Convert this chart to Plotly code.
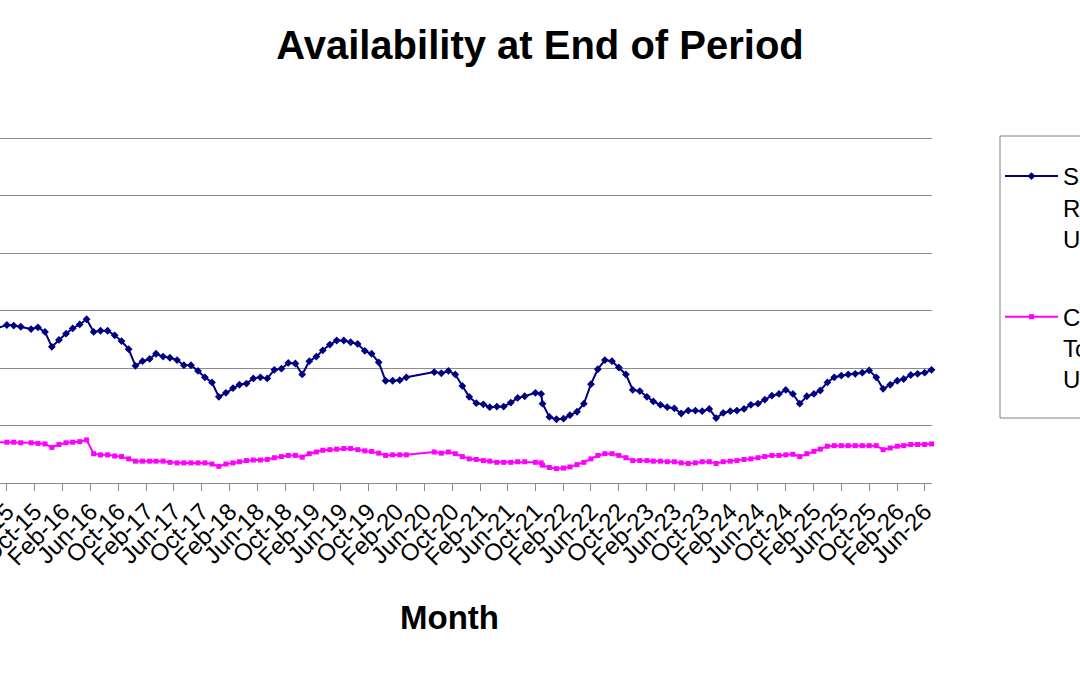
"""Availability at end of period: two monthly series on a date axis,
Excel-style chart cropped at both sides (left axis labels and the legend
text run past the page edge)."""
import plotly.graph_objects as go

FONT = "Liberation Sans, Arial, sans-serif"
INK = "#000000"
GRID = "#8c8c8c"
FRAME = "#808080"
BLUE = "#000080"
PINK = "#FF00FF"

DATES = [
    "2015-05-01", "2015-06-01", "2015-07-01", "2015-08-01",
    "2015-09-15", "2015-10-15", "2015-11-15", "2015-12-15",
    "2016-01-15", "2016-02-15", "2016-03-15", "2016-04-15", "2016-05-15", "2016-06-15",
    "2016-07-15", "2016-08-15", "2016-09-15", "2016-10-15", "2016-11-15", "2016-12-15",
    "2017-01-15", "2017-02-15", "2017-03-15", "2017-04-15", "2017-05-15", "2017-06-15",
    "2017-07-15", "2017-08-15", "2017-09-15", "2017-10-15", "2017-11-15", "2017-12-15",
    "2018-01-15", "2018-02-15", "2018-03-15", "2018-04-15", "2018-05-15", "2018-06-15",
    "2018-07-15", "2018-08-15", "2018-09-15", "2018-10-15", "2018-11-15", "2018-12-15",
    "2019-01-15", "2019-02-15", "2019-03-15", "2019-04-15", "2019-05-15", "2019-06-15",
    "2019-07-15", "2019-08-15", "2019-09-15", "2019-10-15", "2019-11-15", "2019-12-15",
    "2020-01-15", "2020-02-15", "2020-03-15",
    "2020-07-15", "2020-08-15", "2020-09-15", "2020-10-15", "2020-11-15", "2020-12-15",
    "2021-01-15", "2021-02-15", "2021-03-15", "2021-04-15", "2021-05-15", "2021-06-15",
    "2021-07-15", "2021-08-15",
    "2021-10-01", "2021-10-26", "2021-11-01", "2021-12-01",
    "2022-01-01", "2022-02-01", "2022-03-01", "2022-04-01", "2022-05-01", "2022-06-01",
    "2022-07-01", "2022-08-01", "2022-09-01", "2022-10-01", "2022-11-01", "2022-12-01",
    "2023-01-01", "2023-02-01", "2023-03-01", "2023-04-01", "2023-05-01", "2023-06-01",
    "2023-07-01", "2023-08-01", "2023-09-01", "2023-10-01", "2023-11-01", "2023-12-01",
    "2024-01-01", "2024-02-01", "2024-03-01", "2024-04-01", "2024-05-01", "2024-06-01",
    "2024-07-01", "2024-08-01", "2024-09-01", "2024-10-01", "2024-11-01", "2024-12-01",
    "2025-01-01", "2025-02-01", "2025-03-01", "2025-04-01", "2025-05-01", "2025-06-01",
    "2025-07-01", "2025-08-01", "2025-09-01", "2025-10-01", "2025-11-01", "2025-12-01",
    "2026-01-01", "2026-02-01", "2026-03-01", "2026-04-01", "2026-05-01", "2026-06-01",
    "2026-07-01",
]

SPARE = [
    27.1, 27.5, 27.4, 27.2, 26.8, 27.1, 26.3, 23.7, 24.9, 26.0,
    26.9, 27.6, 28.5, 26.3, 26.5, 26.5, 25.7, 24.7, 23.3, 20.4,
    21.2, 21.6, 22.5, 22.0, 21.8, 21.4, 20.5, 20.5, 19.5, 18.4,
    17.5, 15.0, 15.7, 16.5, 17.1, 17.3, 18.2, 18.4, 18.2, 19.7,
    19.9, 20.9, 20.8, 18.9, 21.2, 22.0, 23.1, 24.1, 24.8, 24.8,
    24.5, 24.2, 23.0, 22.5, 21.0, 17.8, 17.8, 17.9, 18.4, 19.3,
    19.1, 19.5, 18.9, 16.9, 15.0, 13.9, 13.7, 13.2, 13.3, 13.3,
    14.0, 14.8, 15.1, 15.7, 15.5, 13.8, 11.5, 11.1, 11.2, 11.8,
    12.4, 13.8, 17.2, 19.8, 21.4, 21.2, 20.1, 18.9, 16.2, 16.0,
    15.0, 14.2, 13.6, 13.2, 13.0, 12.1, 12.6, 12.6, 12.5, 12.9,
    11.3, 12.2, 12.5, 12.6, 12.9, 13.6, 13.8, 14.5, 15.2, 15.5,
    16.2, 15.5, 13.8, 15.1, 15.5, 16.1, 17.5, 18.4, 18.7, 18.9,
    19.0, 19.2, 19.6, 18.4, 16.4, 17.1, 17.8, 18.1, 18.8, 19.0,
    19.2, 19.7,
]

CURRENT = [
    7.1, 7.1, 7.1, 7.0, 7.0, 6.9, 6.8, 6.2, 6.7, 7.0,
    7.1, 7.2, 7.5, 5.1, 4.9, 4.9, 4.7, 4.6, 4.2, 3.8,
    3.8, 3.8, 3.8, 3.8, 3.6, 3.5, 3.5, 3.5, 3.5, 3.5,
    3.3, 2.9, 3.3, 3.5, 3.7, 3.9, 4.0, 4.0, 4.1, 4.4,
    4.6, 4.8, 4.8, 4.5, 5.1, 5.4, 5.7, 5.8, 5.9, 6.0,
    6.0, 5.8, 5.6, 5.5, 5.2, 4.8, 4.9, 4.9, 4.9, 5.4,
    5.2, 5.4, 5.1, 4.6, 4.2, 4.1, 3.9, 3.8, 3.6, 3.6,
    3.6, 3.7, 3.7, 3.6, 3.5, 3.1, 2.7, 2.5, 2.6, 2.8,
    3.2, 3.6, 4.2, 4.8, 5.1, 5.1, 4.8, 4.4, 3.9, 3.9,
    3.9, 3.8, 3.8, 3.7, 3.7, 3.5, 3.4, 3.5, 3.7, 3.7,
    3.4, 3.7, 3.8, 3.9, 4.1, 4.2, 4.4, 4.6, 4.8, 4.8,
    4.9, 5.0, 4.6, 5.1, 5.5, 5.9, 6.4, 6.5, 6.5, 6.5,
    6.5, 6.5, 6.5, 6.5, 5.8, 6.1, 6.4, 6.5, 6.7, 6.7,
    6.7, 6.8,
]

SERIES_NAMES = ["Spare<br>Reserve<br>Units", "Current<br>Total<br>Units"]

fig = go.Figure()

fig.add_trace(go.Scatter(
    x=DATES, y=SPARE, name=SERIES_NAMES[0], legendgroup="a",
    mode="lines+markers", cliponaxis=False,
    line=dict(color=BLUE, width=2),
    marker=dict(symbol="diamond", size=6, color=BLUE),
))
fig.add_trace(go.Scatter(
    x=DATES, y=CURRENT, name=SERIES_NAMES[1], legendgroup="b",
    mode="lines+markers", cliponaxis=False,
    line=dict(color=PINK, width=2),
    marker=dict(symbol="square", size=5, color=PINK),
))

fig.update_xaxes(
    type="date",
    range=["2015-05-02", "2026-07-03"],
    tick0="2015-06-01", dtick="M4", tickformat="%b-%y",
    tickangle=-45, tickfont=dict(size=24, color=INK, family=FONT),
    ticklabelstandoff=-3, ticklabeloverflow="allow",
    ticks="outside", ticklen=7, tickcolor=GRID, tickwidth=1,
    showline=True, linecolor=GRID, linewidth=1,
    showgrid=False, zeroline=False, automargin=False,
)
fig.update_yaxes(
    range=[0, 60.4], dtick=10,
    showticklabels=False, showline=False, zeroline=False,
    gridcolor=GRID, gridwidth=1, automargin=False,
)

# axis title placed by hand (the original plot area starts off-page)
fig.add_annotation(
    text="<b>Month</b>", xref="paper", yref="paper",
    x=449 / 932, y=(483 - 617) / 347, xanchor="center", yanchor="middle",
    showarrow=False, font=dict(size=33, color=INK, family=FONT),
)

# legend frame (runs off the right edge like the original)
fig.add_shape(
    type="rect", xref="paper", yref="paper",
    x0=1000 / 932, x1=1.25, y0=(483 - 418) / 347, y1=(483 - 136) / 347,
    line=dict(color=FRAME, width=1), fillcolor="rgba(0,0,0,0)",
)

fig.update_layout(
    width=1080, height=675,
    title=dict(
        text="<b>Availability at End of Period</b>",
        x=0.5, xanchor="center", y=1 - 45 / 675, yanchor="middle",
        font=dict(size=40, color=INK, family=FONT),
    ),
    margin=dict(l=0, r=148, t=136, b=192, autoexpand=False),
    paper_bgcolor="white",
    plot_bgcolor="white",
    font=dict(family=FONT, color=INK),
    showlegend=True,
    legend=dict(
        xref="container", yref="container",
        x=1000 / 1080, y=1 - 154 / 675,
        xanchor="left", yanchor="top",
        borderwidth=0, bgcolor="rgba(0,0,0,0)",
        font=dict(size=24, color=INK, family=FONT),
        valign="top", tracegroupgap=44, itemwidth=53,
    ),
)

fig.write_html(
    "out.html",
    config={"displayModeBar": False},
    post_script="document.body.style.margin='0px';",
)
